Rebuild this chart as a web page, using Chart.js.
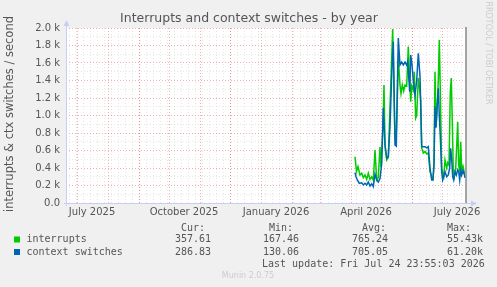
<!DOCTYPE html>
<html>
<head>
<meta charset="utf-8">
<script src="https://cdn.jsdelivr.net/npm/chart.js@4/dist/chart.umd.min.js"></script>
<style>
  html, body { margin: 0; padding: 0; background: #f0f0f0; }
  #chart { display: block; }
</style>
</head>
<body>
<canvas id="chart" width="497" height="287"></canvas>
<script>
// x values are days since 2025-06-20 (start of the yearly window)
const intrDays = [289, 290.5, 292, 294, 295.7, 297.3, 299, 300.7, 302.3, 304, 305.7, 307.3, 309, 310.7, 312.3, 314, 315, 317, 318, 319, 320.7, 322.3, 324, 325.7, 326.7, 328, 329, 330, 331, 332.3, 334, 335, 336.3, 337.7, 339, 340.7, 342.3, 343.3, 344.7, 345.7, 347.3, 348.3, 349.7, 350.7, 352.3, 353.3, 354.7, 355.7, 357.3, 359, 360.7, 362.3, 364, 365.7, 367, 368, 369, 370, 371, 372.3, 373.3, 374.3, 375.7, 376.7, 377.7, 379, 380.7, 381.7, 383, 384.3, 385.3, 386.3, 387.3, 388.3, 389.7, 390.7, 391.7, 392.7, 393.7, 394.7, 395.7, 397, 398.3, 399];
const intrValues = [529, 360, 415, 320, 340, 290, 320, 270, 340, 270, 300, 260, 606, 265, 290, 640, 410, 880, 1349, 663, 491, 520, 1100, 1657, 1989, 1272, 743, 700, 1060, 1657, 1349, 1250, 1350, 1280, 1349, 1340, 1787, 1500, 1158, 1340, 1290, 1500, 971, 1000, 1429, 1340, 1180, 629, 571, 590, 560, 575, 358, 301, 280, 430, 1501, 871, 1044, 1400, 1863, 1280, 396, 330, 300, 491, 400, 460, 430, 1272, 1429, 920, 360, 300, 396, 650, 929, 430, 360, 701, 360, 420, 350, 358];

const ctxDays = [289, 290, 291.3, 293.3, 295.7, 297.3, 299, 300.7, 302.3, 304, 305.7, 307.3, 309, 310.7, 312.3, 314, 315.7, 317.3, 319, 320.7, 322.3, 324, 325.7, 327.3, 329, 330.3, 331.3, 332.3, 334, 335.7, 337.3, 339, 340.7, 341.7, 343.7, 344.7, 345.7, 347.3, 349, 350.7, 352.3, 354, 355.7, 357.3, 359, 360.7, 362.3, 364, 365.7, 367, 368, 369, 370, 371, 372.3, 373.3, 374.3, 375.7, 376.7, 377.7, 379, 380.7, 382.3, 383.7, 384.7, 385.7, 386.7, 387.7, 389, 390.3, 391.7, 392.7, 393.7, 394.7, 395.7, 397, 398.3, 399];
const ctxValues = [347, 300, 263, 225, 230, 206, 225, 206, 240, 195, 220, 187, 330, 263, 240, 280, 450, 1086, 663, 514, 530, 870, 1463, 1844, 663, 650, 1270, 1886, 1577, 1610, 1577, 1611, 1577, 1615, 1272, 1691, 1620, 1400, 1234, 1400, 1711, 1450, 644, 644, 644, 630, 644, 400, 263, 263, 450, 1100, 860, 1080, 1311, 1000, 760, 358, 263, 300, 358, 300, 320, 400, 625, 500, 300, 263, 358, 320, 380, 358, 263, 380, 320, 370, 330, 287];

// month starts (red grid) and x labels (mid-month, every 3 months)
const monthStarts = [11, 42, 73, 103, 134, 164, 195, 226, 254, 285, 315, 346, 376];
const labelDays = [26, 118, 210, 300, 391];
const labelText = ['July 2025', 'October 2025', 'January 2026', 'April 2026', 'July 2026'];

// legend table
const seriesNames = ['interrupts', 'context switches'];
const seriesColors = ['#00cc00', '#0066b3'];
const curValues = ['357.61', '286.83'];
const minValues = ['167.46', '130.06'];
const avgValues = ['765.24', '705.05'];
const maxValues = ['55.43k', '61.20k'];

const SANS = '"DejaVu Sans", sans-serif';
const MONO = '"DejaVu Sans Mono", monospace';
const FONT_COLOR = '#555555';
const MGRID = 'rgba(230, 110, 110, 0.55)';
const GRID = 'rgba(200, 200, 200, 0.45)';
const AXIS = '#c8cdf5';

// weekly minor grid (Mondays)
const weekDays = [];
for (let d = 3; d < 400; d += 7) weekDays.push(d);
const gridDays = monthStarts.concat(weekDays);

function toPoints(days, values) {
  return days.map((d, i) => ({ x: d, y: values[i] }));
}

const decorations = {
  id: 'decorations',
  beforeDraw(chart) {
    const c = chart.ctx;
    const a = chart.chartArea;
    c.save();
    c.fillStyle = '#f0f0f0';
    c.fillRect(0, 0, chart.width, chart.height);
    c.fillStyle = '#ffffff';
    c.fillRect(a.left, a.top, a.right - a.left, a.bottom - a.top);
    c.restore();
  },
  afterDraw(chart) {
    const c = chart.ctx;
    const a = chart.chartArea;
    c.save();

    // axes with arrows
    c.strokeStyle = AXIS;
    c.fillStyle = AXIS;
    c.lineWidth = 1;
    c.beginPath();
    c.moveTo(a.left - 2, a.bottom + 0.5);
    c.lineTo(a.right + 6, a.bottom + 0.5);
    c.moveTo(a.left + 0.5, a.bottom + 3);
    c.lineTo(a.left + 0.5, a.top - 4);
    c.stroke();
    c.beginPath();
    c.moveTo(a.right + 11, a.bottom + 0.5);
    c.lineTo(a.right + 5, a.bottom - 2.5);
    c.lineTo(a.right + 5, a.bottom + 3.5);
    c.closePath();
    c.fill();
    c.beginPath();
    c.moveTo(a.left + 0.5, a.top - 8);
    c.lineTo(a.left - 2.5, a.top - 2);
    c.lineTo(a.left + 3.5, a.top - 2);
    c.closePath();
    c.fill();

    // right edge rule
    c.strokeStyle = '#888888';
    c.lineWidth = 1.5;
    c.beginPath();
    c.moveTo(a.right, a.top - 1);
    c.lineTo(a.right, a.bottom);
    c.stroke();

    // title
    c.fillStyle = FONT_COLOR;
    c.font = '12.5px ' + SANS;
    c.textAlign = 'center';
    c.textBaseline = 'middle';
    c.fillText('Interrupts and context switches - by year', 249, 19);

    // y axis title
    c.save();
    c.translate(10.5, 114);
    c.rotate(-Math.PI / 2);
    c.font = '11.5px ' + SANS;
    c.fillText('interrupts & ctx switches / second', 0, 0);
    c.restore();

    // side watermark
    c.save();
    c.translate(488, 53);
    c.rotate(Math.PI / 2);
    c.fillStyle = '#cccccc';
    c.font = '8px ' + SANS;
    c.fillText('RRDTOOL / TOBI OETIKER', 0, 0);
    c.restore();

    // legend
    c.font = '10px ' + MONO;
    c.textAlign = 'left';
    c.fillStyle = FONT_COLOR;
    c.fillText('Cur:', 181, 228);
    c.fillText('Min:', 269, 228);
    c.fillText('Avg:', 362, 228);
    c.fillText('Max:', 447, 228);
    const rowY = [239.5, 252];
    seriesNames.forEach((name, i) => {
      c.fillStyle = seriesColors[i];
      c.fillRect(14, rowY[i] - 3, 6, 6);
      c.fillStyle = FONT_COLOR;
      c.fillText(name, 26.5, rowY[i]);
      c.fillText(curValues[i], 175, rowY[i]);
      c.fillText(minValues[i], 263, rowY[i]);
      c.fillText(avgValues[i], 352, rowY[i]);
      c.fillText(maxValues[i], 447, rowY[i]);
    });
    c.fillText('Last update: Fri Jul 24 23:55:03 2026', 262, 264);

    c.fillStyle = '#cccccc';
    c.font = '8px ' + SANS;
    c.textAlign = 'center';
    c.fillText('Munin 2.0.75', 248, 276);
    c.restore();
  }
};

new Chart(document.getElementById('chart'), {
  type: 'line',
  data: {
    datasets: [
      {
        label: seriesNames[0],
        data: toPoints(intrDays, intrValues),
        borderColor: seriesColors[0],
        borderWidth: 1.5,
        pointRadius: 0,
        tension: 0,
        order: 1
      },
      {
        label: seriesNames[1],
        data: toPoints(ctxDays, ctxValues),
        borderColor: seriesColors[1],
        borderWidth: 1.5,
        pointRadius: 0,
        tension: 0,
        order: 0
      }
    ]
  },
  options: {
    responsive: false,
    animation: false,
    devicePixelRatio: 1,
    layout: { padding: { top: 28, right: 31, bottom: 64, left: 0 } },
    plugins: {
      legend: { display: false },
      tooltip: { enabled: false }
    },
    scales: {
      x: {
        type: 'linear',
        min: 0,
        max: 400,
        position: 'bottom',
        afterBuildTicks: s => { s.ticks = gridDays.map(v => ({ value: v })); },
        afterFit: s => { s.height = 0; s.paddingLeft = 0; s.paddingRight = 0; },
        ticks: { display: false },
        grid: {
          drawTicks: false,
          lineWidth: 1,
          color: c => monthStarts.includes(c.tick.value) ? MGRID : GRID
        },
        border: { display: false, dash: [1, 2] }
      },
      xl: {
        type: 'linear',
        axis: 'x',
        min: 0,
        max: 400,
        position: 'bottom',
        weight: 1,
        afterBuildTicks: s => { s.ticks = labelDays.map(v => ({ value: v })); },
        afterFit: s => { s.height = 20; s.paddingLeft = 0; s.paddingRight = 0; },
        ticks: {
          autoSkip: false,
          maxRotation: 0,
          padding: 3,
          color: FONT_COLOR,
          font: { family: SANS, size: 10 },
          callback: (v, i) => labelText[i]
        },
        grid: { display: false, drawTicks: false },
        border: { display: false }
      },
      y: {
        type: 'linear',
        min: 0,
        max: 2000,
        afterFit: s => { s.width = 66; s.paddingTop = 0; s.paddingBottom = 0; },
        ticks: {
          stepSize: 100,
          autoSkip: false,
          padding: 6,
          color: FONT_COLOR,
          font: { family: SANS, size: 10 },
          callback: v => v % 200 !== 0 ? '' : (v === 0 ? '0.0' : (v / 1000).toFixed(1) + ' k')
        },
        grid: {
          drawTicks: false,
          lineWidth: 1,
          color: c => c.tick.value % 200 === 0 ? MGRID : GRID
        },
        border: { display: false, dash: [1, 2] }
      }
    }
  },
  plugins: [decorations]
});
</script>
</body>
</html>
